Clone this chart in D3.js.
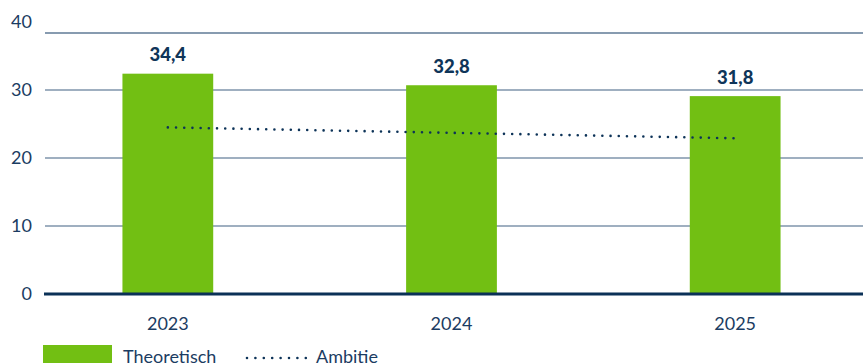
<!DOCTYPE html>
<html>
<head>
<meta charset="utf-8">
<script src="https://cdn.jsdelivr.net/npm/d3@7"></script>
<style>
  body { margin: 0; background: #fff; }
  text { font-family: Lato, "Open Sans", sans-serif; fill: #1b3c62; }
</style>
</head>
<body>
<div class="chart"></div>
<script>
const width = 863;
const height = 363;

// data
const years = ['2023', '2024', '2025'];
const theoretisch = [32.4, 30.7, 29.1];          // bar heights as drawn
const theoretischLabels = ['34,4', '32,8', '31,8']; // printed values
const ambitie = [24.5, 23.7, 22.9];
const yTicks = [0, 10, 20, 30, 40];

const svg = d3.select('.chart')
    .append('svg')
    .attr('width', width)
    .attr('height', height)

const x = d3.scaleBand()
    .domain(years)
    .range([26, 877])
    .paddingInner(0.68)
    .paddingOuter(0.34)

const y = d3.scaleLinear()
    .domain([0, 40])
    .range([294, 22])

const plotTop = 33;

// grid
svg.selectAll('.grid')
    .data(yTicks.filter(d => d > 0 && y(d) > plotTop))
    .enter()
    .append('line')
    .attr('x1', 45).attr('x2', width)
    .attr('y1', d => y(d)).attr('y2', d => y(d))
    .attr('stroke', '#7f95ab')
    .attr('stroke-width', 1.5)

// top border of the plot
svg.append('line')
    .attr('x1', 45).attr('x2', width)
    .attr('y1', plotTop).attr('y2', plotTop)
    .attr('stroke', '#5f7a96')
    .attr('stroke-width', 1.5)

svg.selectAll('.ylab')
    .data(yTicks)
    .enter()
    .append('text')
    .attr('x', 32)
    .attr('y', d => y(d))
    .attr('dy', '0.36em')
    .attr('text-anchor', 'end')
    .attr('font-size', 18)
    .text(d => d)

// bars
const bars = svg.selectAll('.bar')
    .data(years)
    .enter()
    .append('g')

bars.append('rect')
    .attr('x', d => x(d))
    .attr('width', x.bandwidth())
    .attr('y', (d, i) => y(theoretisch[i]))
    .attr('height', (d, i) => y(0) - y(theoretisch[i]))
    .attr('fill', '#72bf13')

bars.append('text')
    .attr('x', d => x(d) + x.bandwidth() / 2)
    .attr('y', (d, i) => y(theoretisch[i]) - 12.5)
    .attr('text-anchor', 'middle')
    .attr('font-size', 18.5)
    .attr('font-weight', 900)
    .style('fill', '#0f3559')
    .text((d, i) => theoretischLabels[i])

bars.append('text')
    .attr('x', d => x(d) + x.bandwidth() / 2)
    .attr('y', 330)
    .attr('text-anchor', 'middle')
    .attr('font-size', 18)
    .text(d => d)

// baseline
svg.append('line')
    .attr('x1', 44).attr('x2', width)
    .attr('y1', y(0)).attr('y2', y(0))
    .attr('stroke', '#0b3157')
    .attr('stroke-width', 3)

// ambition line
const line = d3.line()
    .x((d, i) => x(years[i]) + x.bandwidth() / 2)
    .y(d => y(d))

svg.append('path')
    .datum(ambitie)
    .attr('d', line)
    .attr('fill', 'none')
    .attr('stroke', '#0d3358')
    .attr('stroke-width', 2.6)
    .attr('stroke-linecap', 'round')
    .attr('stroke-dasharray', '0 8.2')

// legend
svg.append('rect')
    .attr('x', 43).attr('y', 345)
    .attr('width', 69).attr('height', 20)
    .attr('fill', '#72bf13')

svg.append('text')
    .attr('x', 123).attr('y', 363)
    .attr('font-size', 18)
    .text('Theoretisch')

svg.append('line')
    .attr('x1', 247).attr('x2', 306)
    .attr('y1', 358).attr('y2', 358)
    .attr('stroke', '#0d3358')
    .attr('stroke-width', 2.6)
    .attr('stroke-linecap', 'round')
    .attr('stroke-dasharray', '0 8.4')

svg.append('text')
    .attr('x', 316).attr('y', 363)
    .attr('font-size', 18)
    .text('Ambitie')
</script>
</body>
</html>
